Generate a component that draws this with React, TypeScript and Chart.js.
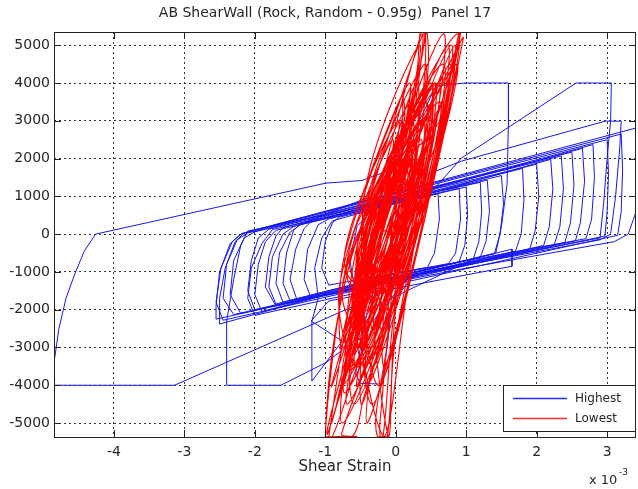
import { useEffect, useRef } from "react";
import { Chart, registerables } from "chart.js";

Chart.register(...registerables);

const TITLE = "AB ShearWall (Rock, Random - 0.95g)  Panel 17";
const X_LABEL = "Shear Strain";
const X_EXP_BASE = "x 10";
const X_EXP_POWER = "-3";
const X_TICKS = [-4, -3, -2, -1, 0, 1, 2, 3];
const Y_TICKS = [-5000, -4000, -3000, -2000, -1000, 0, 1000, 2000, 3000, 4000, 5000];
const SERIES_NAMES = ["Highest", "Lowest"];
const X_RANGE = [-4.85, 3.41];
const Y_RANGE = [-5370, 5350];

// Shear strain (x 10^-3), shear force
const highestPath: [number, number][] = [
  [0, 0], [0.3, 950], [0.6, 1070], [0.62, 400], [0.55, -500], [0.45, -880],
  [-0.95, -1350], [-1.05, -900], [-1.0, -200], [-0.9, 300], [-0.8, 450],
  [1.0, 1250], [1.02, 500], [0.98, -300], [0.9, -730],
  [-1.5, -1760], [-1.6, -1300], [-1.55, -500], [-1.45, 100], [-1.35, 270],
  [1.5, 1550], [1.53, 800], [1.48, 0], [1.4, -520],
  [-2.0, -2000], [-2.1, -1500], [-2.05, -700], [-1.95, -100], [-1.8, 130],
  [2.0, 1850], [2.03, 1000], [1.98, 100], [1.9, -410],
  [-2.3, -2130], [-2.45, -1700], [-2.4, -800], [-2.25, -150], [-2.1, 30],
  [2.5, 2170], [2.53, 1300], [2.48, 300], [2.4, -220],
  [-2.55, -2250], [-2.55, -1900], [-2.5, -1000], [-2.35, -250], [-2.2, 0],
  [3.0, 2500], [3.02, 1600], [3.0, 600], [2.97, -50],
  [-0.95, -1590], [-2.5, -2380], [-2.5, -1700], [-2.42, -900], [-2.28, -200], [-2.15, 30],
  [3.45, 2830], [3.45, 800], [3.3, 0], [3.1, -200],
  [1.0, -900], [-1.2, -1700], [-1.9, -2050], [-2.0, -1600], [-1.95, -800], [-1.85, -200], [-1.7, 100],
  [0.9, 1220], [0.92, 400], [0.85, -500], [0.75, -780],
  [-0.6, -1250], [-0.65, -700], [-0.55, 200], [-0.3, 700], [0.0, 850],
  [0.23, 2590], [0.57, 3920], [0.99, 4000], [1.6, 4000], [1.6, 3000], [1.58, 1320], [1.5, 200], [1.42, -500],
  [-1.2, -1700], [-1.3, -1200], [-1.25, -400], [-1.1, 250], [-0.95, 400], [0.5, 1100],
  [0.93, 2010], [2.56, 4000], [3.06, 4000], [3.05, 3000], [3.0, 2000], [2.95, 800], [2.9, -100],
  [0.4, -1000], [-0.66, -1960], [-3.14, -4000], [-4.85, -4000], [-4.85, -3400], [-4.78, -2500],
  [-4.68, -1700], [-4.55, -1030], [-4.42, -450], [-4.26, 0],
  [-0.99, 1350], [-0.48, 1420], [0.0, 1750], [0.1, 3040], [0.08, 1900], [0.05, 800], [0.0, -400], [-0.1, -1100],
  [-1.7, -1850], [-1.8, -1400], [-1.75, -600], [-1.6, 0], [-1.45, 200],
  [0.93, 1930], [2.97, 2990], [3.2, 2990], [3.18, 2300], [3.12, 1000], [3.05, 0], [2.9, -150],
  [0.2, -1100], [-0.5, -2700], [-0.99, -3400], [-1.63, -4000], [-2.4, -4000], [-2.4, -3000], [-2.4, -2300],
  [-2.3, -1200], [-2.2, -300], [-2.1, 80],
  [1.2, 1370], [1.22, 600], [1.18, -200], [1.1, -660],
  [-0.4, -2000], [-0.57, -3700], [-0.5, -3950], [-0.2, -3970], [-0.13, -3100], [-0.05, -1800], [0.3, -1000],
  [1.65, -400], [1.65, -850], [-0.95, -1770], [-1.2, -2300], [-0.76, -2830], [-1.19, -3890], [-1.19, -2300],
  [-1.1, -1700], [-1.15, -900], [-1.05, -100], [-0.9, 350],
  [2.2, 1980], [2.23, 1200], [2.18, 200], [2.1, -300],
  [-1.7, -1900], [-1.85, -1400], [-1.8, -600], [-1.7, -50], [-1.6, 170],
  [2.8, 2370], [2.82, 1500], [2.78, 400], [2.7, -120],
  [0.0, -1050], [-1.6, -1800], [-1.7, -1300], [-1.65, -500], [-1.5, 50], [-1.35, 250],
  [1.8, 1740], [1.82, 900], [1.78, 0], [1.7, -450],
  [-2.2, -2100], [-2.35, -1600], [-2.3, -700], [-2.15, -100], [-2.0, 60],
  [2.35, 2070], [2.38, 1200], [2.33, 200], [2.25, -280],
  [-1.4, -1750], [-1.5, -1200], [-1.42, -400], [-1.3, 150], [-1.2, 330],
  [2.65, 2270], [2.68, 1400], [2.62, 300], [2.55, -180],
  [-2.45, -2280], [-2.55, -1800], [-2.48, -900], [-2.32, -200], [-2.18, 20],
  [3.2, 2650], [3.22, 1700], [3.2, 600], [3.15, -30],
  [-2.0, -2150], [-2.1, -1700], [-2.05, -900], [-1.9, -250], [-1.75, 120],
  [1.3, 1430], [1.33, 600], [1.28, -200], [1.2, -620],
  [-0.8, -1450],
];

const lowestPath: [number, number][] = [
  [0, 0],
  [-0.335, -1500], [0.02, 0], [0.105, 1500], [-0.28, 0],
  [-0.545, -2500], [0.035, -250], [0.28, 2000], [-0.365, -250],
  [-0.39, -3000], [0.07, 0], [0.24, 3000], [-0.33, 0],
  [-0.76, -4000], [0.185, -250], [0.62, 3500], [-0.515, -250],
  [-0.325, -3500], [0.16, 250], [0.30, 4000], [-0.34, 250],
  [-0.60, -2000], [0.21, 250], [0.46, 2500], [-0.39, 250],
  [-0.34, -4500], [0.345, 0], [0.77, 4500], [-0.155, 0],
  [-0.91, -5000], [-0.25, -500], [0.20, 4000], [-0.72, -500],
  [-0.74, -3000], [-0.045, 1000], [0.34, 5000], [-0.445, 1000],
  [-0.26, -4000], [0.30, -500], [0.64, 3000], [-0.10, -500],
  [-0.195, -2500], [0.49, 1250], [0.84, 5000], [0.09, 1250],
  [-0.97, -5300], [-0.445, -1400], [-0.04, 2500], [-0.80, -1400],
  [-0.525, -3500], [0.17, 0], [0.42, 3500], [-0.43, 0],
  [-0.30, -2000], [-0.045, -250], [0.005, 1500], [-0.285, -250],
  [-0.69, -4500], [0.27, 0], [0.67, 4500], [-0.53, 0],
  [-1.00, -5360], [-0.62, -5360], [-0.45, -4300], [0.30, 0], [0.90, 5360], [0.84, 4800], [-0.52, 0],
  [-0.17, -5360], [0.185, -1150], [0.54, 3000], [-0.115, -1150],
  [-0.42, -1000], [0.15, 2150], [0.38, 5360], [-0.10, 2150],
  [-0.79, -3000], [-0.395, -1000], [-0.22, 1000], [-0.695, -1000],
  [-0.135, -1500], [0.53, 1500], [0.82, 4500], [0.13, 1500],
  [-0.56, -4000], [-0.02, -1000], [0.18, 2000], [-0.52, -1000],
  [0.0, 1800], [0.30, 4300], [0.35, 5360], [0.42, 5360], [0.40, 4000], [0.28, 2500], [-0.15, 300],
  [-0.495, -2500], [0.16, 250], [0.39, 3000], [-0.34, 250],
  [-0.76, -5000], [0.32, 150], [0.88, 5300], [-0.48, 150],
  [-0.675, -3500], [0.05, 500], [0.42, 4500], [-0.45, 500],
  [-0.10, -2000], [0.415, 750], [0.67, 3500], [0.115, 750],
  [-0.05, -1500], [-0.20, -4500], [-0.22, -5360], [-0.12, -5360], [-0.02, -3000], [0.30, 500],
  [0.23, 2200], [-0.13, 600],
  [-0.84, -4500], [-0.36, -1500], [-0.095, 1500], [-0.76, -1500],
  [-0.34, -3000], [0.15, -500], [0.33, 2000], [-0.25, -500],
  [-0.27, -1000], [0.18, 1000], [0.34, 3000], [-0.12, 1000],
  [-0.41, -4000], [0.375, 500], [0.74, 5000], [-0.225, 500],
  [-0.695, -2500], [-0.085, 750], [0.20, 4000], [-0.485, 750],
  [0.05, 2000], [0.38, 4800], [0.44, 5360], [0.46, 4400], [0.33, 2600], [0.0, 900],
  [-0.175, -3500], [0.30, -500], [0.61, 2500], [0.0, -500],
  [-0.50, -2000], [-0.03, 0], [0.08, 2000], [-0.43, 0],
  [-0.95, -5360], [-0.83, -5360], [-0.55, -5360], [-0.77, -5300], [0.155, -650], [0.60, 4000], [-0.645, -650],
  [-0.435, -1500], [0.15, 500], [0.36, 2500], [-0.25, 500],
  [-0.49, -4500], [0.05, -500], [0.32, 3500], [-0.45, -500],
  [-0.49, -3000], [0.39, 750], [0.87, 4500], [-0.11, 750],
  [-0.345, -2500], [-0.015, -750], [0.13, 1000], [-0.255, -750],
  [0.09, 2900], [0.10, 3650], [0.12, 3000],
  [-0.91, -4000], [-0.325, -500], [0.04, 3000], [-0.725, -500],
  [-0.40, -2000], [0.28, 1000], [0.50, 4000], [-0.22, 1000],
  [-0.575, -3500], [0.135, -250], [0.39, 3000], [-0.465, -250],
  [-0.12, -1000], [0.245, 500], [0.38, 2000], [0.005, 500],
  [-0.41, -5000], [0.345, 0], [0.79, 5000], [-0.255, 0],
  [-0.64, -3000], [-0.065, 250], [0.22, 3500], [-0.465, 250],
  [-0.10, -2000], [-0.28, -4800], [-0.26, -5360], [-0.18, -5360], [-0.05, -2500], [0.20, 800],
  [0.55, 4000], [-0.49, -250],
  [-0.59, -4500], [0.21, -250], [0.55, 4000], [-0.49, -250],
  [-0.445, -2500], [0.09, 0], [0.26, 2500], [-0.35, 0],
  [-0.235, -1500], [0.31, 1000], [0.52, 3500], [-0.05, 1000],
  [-0.66, -4000], [-0.115, -750], [0.16, 2500], [-0.555, -750],
  [-0.425, -3500], [0.364, 900], [0.68, 5300], [-0.236, 900],
  [-0.60, -2000], [-0.025, 500], [0.19, 3000], [-0.425, 500],
  [0.40, 5360], [0.10, 2600], [-0.30, 1200], [-0.60, 0], [-0.82, -2200], [-1.00, -5360], [-0.90, -5360],
  [-0.55, -3500], [0.10, -500], [0.50, 1500], [0.85, 4600], [0.92, 5360], [0.80, 4300],
  [-0.30, -1400], [0.06, 100], [0.16, 1700], [-0.18, 100],
  [-0.55, -3000], [0.08, -250], [0.28, 2500], [-0.36, -250],
  [-0.63, -3500], [0.20, 0], [0.43, 3500], [-0.40, 0],
  [-0.48, -2500], [-0.03, -500], [0.13, 1500], [-0.33, -500],
  [-0.10, -5360], [0.0, -2000], [0.25, -300], [0.50, 1100], [0.96, 5200], [0.90, 5000], [0.40, 2000],
  [-0.40, -2000], [0.10, 0], [0.20, 2000], [-0.30, 0],
  [-0.73, -4200], [0.21, -100], [0.50, 4000], [-0.45, -100],
  [-0.52, -2800], [0.07, -200], [0.26, 2400], [-0.33, -200],
  [-0.64, -3600], [0.06, -600], [0.26, 2400], [-0.44, -600],
  [-0.46, -2400], [0.02, -200], [0.20, 2000], [-0.28, -200],
  [-0.57, -3100], [0.02, -500], [0.22, 2100], [-0.38, -500],
  [-0.37, -1800], [0.08, 200], [0.23, 2200], [-0.22, 200],
  [0, 0],
];

export default function App() {
  const ref = useRef<HTMLCanvasElement>(null);

  useEffect(() => {
    document.body.style.margin = "0";
    const font = "'DejaVu Sans', 'Liberation Sans', Arial, sans-serif";
    const textColor = "#262626";

    const framePlugin = {
      id: "matlabFrame",
      afterDraw(chart: any) {
        const ctx = chart.ctx as CanvasRenderingContext2D;
        const area = chart.chartArea;
        const xs = chart.scales.x;
        const ys = chart.scales.y;
        ctx.save();
        ctx.strokeStyle = "#222";
        ctx.lineWidth = 1;
        ctx.strokeRect(Math.round(area.left) + 0.5, Math.round(area.top) + 0.5,
          Math.round(area.right - area.left) - 1, Math.round(area.bottom - area.top));
        ctx.beginPath();
        const tl = 7;
        X_TICKS.forEach((v) => {
          const px = Math.round(xs.getPixelForValue(v)) + 0.5;
          ctx.moveTo(px, area.bottom);
          ctx.lineTo(px, area.bottom - tl);
          ctx.moveTo(px, area.top);
          ctx.lineTo(px, area.top + tl);
        });
        Y_TICKS.forEach((v) => {
          const py = Math.round(ys.getPixelForValue(v)) + 0.5;
          ctx.moveTo(area.left, py);
          ctx.lineTo(area.left + tl, py);
          ctx.moveTo(area.right, py);
          ctx.lineTo(area.right - tl, py);
        });
        ctx.stroke();

        ctx.fillStyle = textColor;
        ctx.font = `14px ${font}`;
        ctx.textAlign = "center";
        ctx.textBaseline = "middle";
        ctx.fillText(TITLE, 325, 13);
        ctx.font = `15px ${font}`;
        ctx.fillText(X_LABEL, 345, 467);
        ctx.textAlign = "left";
        ctx.textBaseline = "alphabetic";
        ctx.font = `13px ${font}`;
        ctx.fillText(X_EXP_BASE, 589, 484);
        ctx.font = `9px ${font}`;
        ctx.fillText(X_EXP_POWER, 619, 475);

        const lx = 503, ly = 385, lw = 132, lh = 46;
        ctx.fillStyle = "#fff";
        ctx.fillRect(lx, ly, lw, lh);
        ctx.strokeStyle = "#222";
        ctx.lineWidth = 1;
        ctx.strokeRect(lx + 0.5, ly + 0.5, lw, lh);
        const colors = ["#2a2aff", "#ff2a2a"];
        SERIES_NAMES.forEach((name, i) => {
          const y = ly + 13 + i * 20;
          ctx.strokeStyle = colors[i];
          ctx.lineWidth = 1.5;
          ctx.beginPath();
          ctx.moveTo(513, y + 0.5);
          ctx.lineTo(567, y + 0.5);
          ctx.stroke();
          ctx.fillStyle = textColor;
          ctx.font = `12px ${font}`;
          ctx.textBaseline = "middle";
          ctx.fillText(name, 575, y + 1);
        });
        ctx.restore();
      },
    };

    const chart = new Chart(ref.current as HTMLCanvasElement, {
      type: "scatter",
      data: {
        datasets: [
          {
            label: SERIES_NAMES[1],
            data: lowestPath.map(([x, y]) => ({ x, y })),
            showLine: true,
            borderColor: "#ff0000",
            borderWidth: 1.1,
            pointRadius: 0,
            tension: 0.35,
          },
          {
            label: SERIES_NAMES[0],
            data: highestPath.map(([x, y]) => ({ x, y })),
            showLine: true,
            borderColor: "#1616f2",
            borderWidth: 1,
            pointRadius: 0,
            tension: 0,
          },
        ],
      },
      options: {
        responsive: false,
        animation: false,
        events: [],
        layout: { padding: { top: 32, right: 2, left: 0, bottom: 0 } },
        plugins: {
          legend: { display: false },
          tooltip: { enabled: false },
          title: { display: false },
        },
        scales: {
          x: {
            type: "linear",
            min: X_RANGE[0],
            max: X_RANGE[1],
            afterBuildTicks: (s: any) => {
              s.ticks = X_TICKS.map((v) => ({ value: v }));
            },
            afterFit: (s: any) => {
              s.height = 52;
            },
            ticks: {
              padding: 7,
              color: textColor,
              font: { family: font, size: 14 },
              callback: (v: any) => String(v),
            },
            grid: { color: "#333", lineWidth: 1, drawTicks: false },
            border: { display: false, dash: [2, 3] },
          },
          y: {
            type: "linear",
            min: Y_RANGE[0],
            max: Y_RANGE[1],
            afterBuildTicks: (s: any) => {
              s.ticks = Y_TICKS.map((v) => ({ value: v }));
            },
            afterFit: (s: any) => {
              s.width = 54;
            },
            ticks: {
              padding: 4,
              color: textColor,
              font: { family: font, size: 14 },
              callback: (v: any) => String(v),
            },
            grid: { color: "#333", lineWidth: 1, drawTicks: false },
            border: { display: false, dash: [2, 3] },
          },
        },
      },
      plugins: [framePlugin],
    });
    return () => chart.destroy();
  }, []);

  return <canvas ref={ref} width={638} height={489} style={{ display: "block" }} />;
}
